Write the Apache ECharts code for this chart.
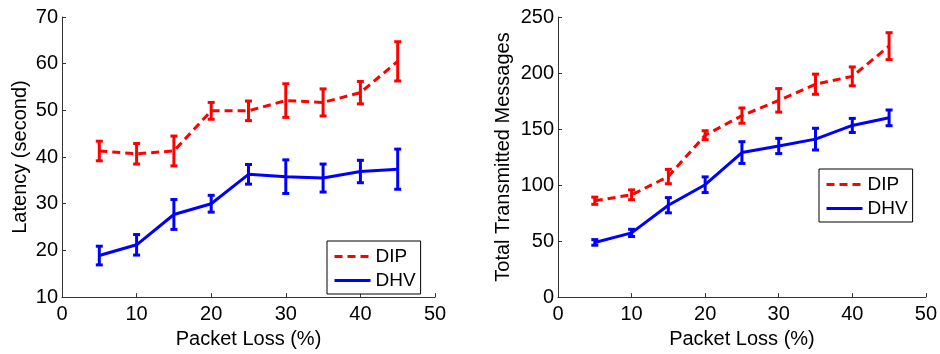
<!DOCTYPE html>
<html>
<head>
<meta charset="utf-8">
<script src="https://cdn.jsdelivr.net/npm/echarts@6/dist/echarts.min.js"></script>
<style>html,body{margin:0;padding:0;background:#fff;}#c{width:940px;height:354px;}</style>
</head>
<body>
<div id="c"></div>
<script>
const packetLoss = [5, 10, 15, 20, 25, 30, 35, 40, 45];
const latDIP = [41.3, 40.7, 41.3, 49.9, 49.9, 52.1, 51.7, 53.8, 60.5];
const latDIPErr = [2.1, 2.2, 3.2, 1.8, 2.1, 3.6, 2.9, 2.4, 4.2];
const latDHV = [18.9, 21.2, 27.7, 30.0, 36.3, 35.8, 35.5, 36.9, 37.4];
const latDHVErr = [2.0, 2.2, 3.2, 1.8, 2.1, 3.6, 3.0, 2.4, 4.3];
const msgDIP = [86, 91.3, 107.6, 144.5, 162, 175.6, 190, 197, 224];
const msgDIPErr = [3.2, 4.4, 6.4, 4.0, 6.8, 10.5, 9.0, 8.4, 12];
const msgDHV = [48.8, 57.3, 82, 100.3, 129, 134.9, 141, 153.2, 160];
const msgDHVErr = [2.5, 3.2, 6.8, 7.0, 9.7, 6.8, 9.7, 6.3, 7.0];
const xTicks = [0, 10, 20, 30, 40, 50];
const latTicks = [10, 20, 30, 40, 50, 60, 70];
const msgTicks = [0, 50, 100, 150, 200, 250];

const RED = '#ff0000', BLUE = '#0000ff', AX = '#333333';
const FONT = 'Liberation Sans';

function pairs(v) { return packetLoss.map((x, i) => [x, v[i]]); }
function errs(v, e) { return packetLoss.map((x, i) => [x, v[i] - e[i], v[i] + e[i]]); }

function errRender(color) {
  return function (params, api) {
    const x = api.value(0), lo = api.value(1), hi = api.value(2);
    const p1 = api.coord([x, hi]), p2 = api.coord([x, lo]);
    const cw = 3.5;
    const st = { stroke: color, lineWidth: 3 };
    return { type: 'group', children: [
      { type: 'line', shape: { x1: p1[0], y1: p1[1], x2: p2[0], y2: p2[1] }, style: st },
      { type: 'line', shape: { x1: p1[0] - cw, y1: p1[1], x2: p1[0] + cw, y2: p1[1] }, style: st },
      { type: 'line', shape: { x1: p2[0] - cw, y1: p2[1], x2: p2[0] + cw, y2: p2[1] }, style: st }
    ]};
  };
}

function xAxis(gi) {
  return {
    gridIndex: gi, type: 'value', min: xTicks[0], max: xTicks[xTicks.length - 1], interval: 10,
    name: 'Packet Loss (%)', nameLocation: 'middle', nameGap: 27,
    nameTextStyle: { fontFamily: FONT, fontSize: 20, color: '#000' },
    axisLine: { lineStyle: { color: AX, width: 1 } },
    axisTick: { inside: true, length: 4, lineStyle: { color: AX } },
    axisLabel: { fontFamily: FONT, fontSize: 20, color: '#000', margin: 7 },
    splitLine: { show: false }
  };
}
function yAxis(gi, ticks, name, gap) {
  return {
    gridIndex: gi, type: 'value', min: ticks[0], max: ticks[ticks.length - 1], interval: ticks[1] - ticks[0],
    name: name, nameLocation: 'middle', nameGap: gap,
    nameTextStyle: { fontFamily: FONT, fontSize: 20, color: '#000' },
    axisLine: { show: true, lineStyle: { color: AX, width: 1 } },
    axisTick: { show: true, inside: true, length: 4, lineStyle: { color: AX } },
    axisLabel: { fontFamily: FONT, fontSize: 20, color: '#000', margin: 4 },
    splitLine: { show: false }
  };
}
function legend(left, top) {
  return {
    orient: 'vertical', left: left, top: top, selectedMode: false,
    backgroundColor: '#fff', borderColor: '#000', borderWidth: 1, borderRadius: 0,
    padding: [6, 5, 4, 6], itemGap: 5, itemWidth: 36, itemHeight: 14, itemTextGap: 4,
    itemStyle: { opacity: 0 },
    lineStyle: { width: 3 },
    textStyle: { fontFamily: FONT, fontSize: 19, color: '#000' },
    data: ['DIP', 'DHV']
  };
}
function lineSeries(name, xi, data, color, dashed) {
  return {
    name: name, type: 'line', xAxisIndex: xi, yAxisIndex: xi, data: data,
    symbol: 'none', z: 3, animation: false,
    lineStyle: { color: color, width: 3, type: dashed ? [8, 5] : 'solid' },
    itemStyle: { color: color }
  };
}
function errSeries(name, xi, data, color) {
  return {
    name: name, type: 'custom', xAxisIndex: xi, yAxisIndex: xi, data: data, z: 2,
    animation: false, renderItem: errRender(color), silent: true
  };
}

const chart = echarts.init(document.getElementById('c'), null, { renderer: 'canvas' });
chart.setOption({
  animation: false,
  backgroundColor: '#fff',
  grid: [
    { left: 62, top: 17, width: 373, height: 286 },
    { left: 558, top: 17, width: 369, height: 286 }
  ],
  xAxis: [xAxis(0), xAxis(1)],
  yAxis: [yAxis(0, latTicks, 'Latency (second)', 32), yAxis(1, msgTicks, 'Total Transmitted Messages', 45)],
  legend: [legend(327, 241), legend(819, 169)],
  series: [
    errSeries('DIP err', 0, errs(latDIP, latDIPErr), RED),
    errSeries('DHV err', 0, errs(latDHV, latDHVErr), BLUE),
    lineSeries('DIP', 0, pairs(latDIP), RED, true),
    lineSeries('DHV', 0, pairs(latDHV), BLUE, false),
    errSeries('DIP err2', 1, errs(msgDIP, msgDIPErr), RED),
    errSeries('DHV err2', 1, errs(msgDHV, msgDHVErr), BLUE),
    lineSeries('DIP', 1, pairs(msgDIP), RED, true),
    lineSeries('DHV', 1, pairs(msgDHV), BLUE, false)
  ]
});
</script>
</body>
</html>
